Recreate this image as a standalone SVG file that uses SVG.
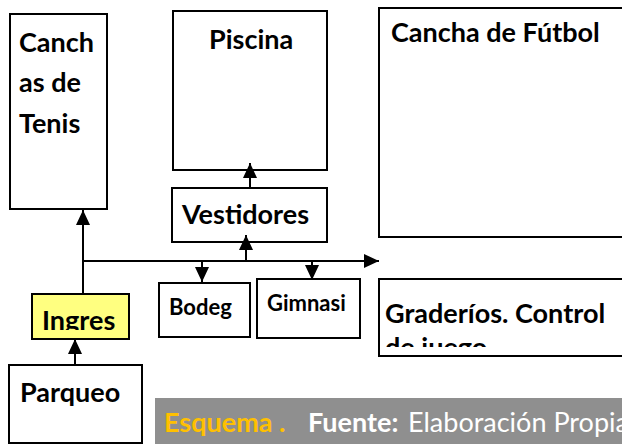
<svg xmlns="http://www.w3.org/2000/svg" width="622" height="444" viewBox="0 0 622 444">
<style>
.box{fill:#fff;stroke:#000;stroke-width:2}
.t{font-family:Lato,"Open Sans",sans-serif;font-weight:bold;font-size:27px;fill:#000}
.s{font-size:22px}
.c{stroke:#000;stroke-width:2;fill:none;marker-end:url(#ah)}
.cap{font-family:Lato,"Open Sans",sans-serif;font-size:27px}
</style>
<defs>
<marker id="ah" markerUnits="userSpaceOnUse" markerWidth="15" markerHeight="14" refX="15" refY="7" orient="auto">
<path d="M0,0 L15,7 L0,14 z" fill="#000"/>
</marker>
<clipPath id="clipIng"><rect x="32" y="294" width="97" height="36"/></clipPath>
<clipPath id="clipGrad"><rect x="379" y="279" width="250" height="68"/></clipPath>
</defs>
<g id="tenis">
<rect class="box" x="10" y="14" width="97" height="195"/>
<text class="t" x="19" y="52">Canch</text>
<text class="t" x="19" y="92">as de</text>
<text class="t" x="19" y="133">Tenis</text>
</g>
<g id="piscina">
<rect class="box" x="173" y="11" width="154" height="159"/>
<text class="t" x="209" y="49">Piscina</text>
</g>
<g id="futbol">
<rect class="box" x="379" y="8" width="260" height="229"/>
<text class="t" x="391" y="42">Cancha de Fútbol</text>
</g>
<g id="vestidores">
<rect class="box" x="172" y="188" width="155" height="54"/>
<text class="t" x="182" y="224">Vestidores</text>
</g>
<g id="bodega">
<rect class="box" x="159" y="283" width="91" height="54"/>
<text class="t s" x="169" y="315">Bodeg</text>
</g>
<g id="gimnasio">
<rect class="box" x="257" y="279" width="103" height="59"/>
<text class="t s" x="267" y="311">Gimnasi</text>
</g>
<g id="graderios">
<rect class="box" x="379" y="279" width="260" height="77"/>
<g clip-path="url(#clipGrad)">
<text class="t" x="385" y="323">Graderíos. Control</text>
<text class="t" x="385" y="357">de juego</text>
</g>
</g>
<g id="ingreso">
<rect x="32" y="294" width="97" height="45" fill="#ffff80" stroke="#000" stroke-width="2"/>
<text class="t" x="42" y="330" clip-path="url(#clipIng)">Ingres</text>
</g>
<g id="parqueo">
<rect class="box" x="9" y="365" width="133" height="78"/>
<text class="t" x="20" y="402">Parqueo</text>
</g>
<g id="connectors">
<line class="c" x1="83" y1="294" x2="83" y2="210"/>
<line class="c" x1="82" y1="261" x2="379" y2="261"/>
<line class="c" x1="246" y1="261" x2="246" y2="235"/>
<line class="c" x1="250" y1="188" x2="250" y2="163"/>
<line class="c" x1="202" y1="261" x2="202" y2="282"/>
<line class="c" x1="312" y1="261" x2="312" y2="280"/>
<line class="c" x1="75" y1="365" x2="75" y2="339"/>
</g>
<g id="caption">
<rect x="155" y="398" width="467" height="46" fill="#8f8f8f"/>
<text class="cap" x="164" y="432"><tspan font-weight="bold" fill="#ffc000">Esquema .</tspan><tspan font-weight="bold" fill="#fff" x="308">Fuente:</tspan><tspan fill="#fff" x="408">Elaboración Propia</tspan></text>
</g>
</svg>
